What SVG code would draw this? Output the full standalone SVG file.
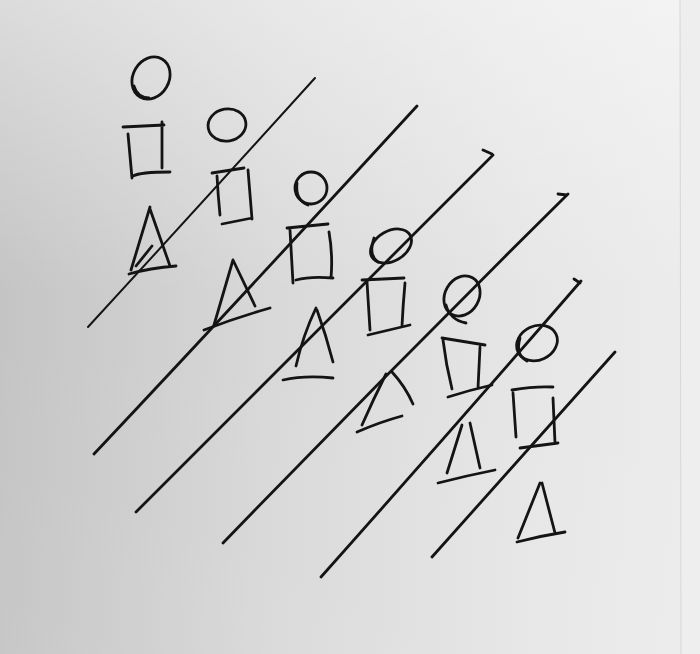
<svg xmlns="http://www.w3.org/2000/svg" width="700" height="654" viewBox="0 0 700 654">
<defs>
<linearGradient id="paperX" x1="0" y1="0" x2="700" y2="0" gradientUnits="userSpaceOnUse">
<stop offset="0" stop-color="#c4c4c4"/>
<stop offset="0.4" stop-color="#d9d9d9"/>
<stop offset="0.75" stop-color="#e6e6e6"/>
<stop offset="1" stop-color="#ececec"/>
</linearGradient>
<linearGradient id="paperY" x1="0" y1="0" x2="0" y2="654" gradientUnits="userSpaceOnUse">
<stop offset="0" stop-color="#ffffff" stop-opacity="0.4"/>
<stop offset="0.45" stop-color="#ffffff" stop-opacity="0"/>
<stop offset="1" stop-color="#ffffff" stop-opacity="0.05"/>
</linearGradient>
<style>
.ink{fill:none;stroke:#141414;stroke-width:2.8;stroke-linecap:round;stroke-linejoin:round}
.thin{stroke-width:2}
</style>
</defs>
<rect width="700" height="654" fill="url(#paperX)"/>
<rect width="700" height="654" fill="url(#paperY)"/>
<rect x="680" y="0" width="20" height="654" fill="#eeeeee"/>
<line x1="680" y1="0" x2="681" y2="654" stroke="#d6d6d6" stroke-width="1"/>

<g id="lines" class="ink">
<path class="thin" d="M88,327 Q200,205 315,78"/>
<path d="M94,454 Q252,286 417,106"/>
<path d="M136,512 Q312,336 493,155 M483,150 L492,154"/>
<path d="M223,543 Q393,367 568,194 M558,194 L567,195"/>
<path d="M321,577 Q450,432 581,281 M574,279 L580,283"/>
<path d="M432,557 Q522,456 615,352"/>
</g>

<g id="column1" class="ink">
<ellipse cx="151" cy="78" rx="18" ry="22" transform="rotate(30 151 78)"/>
<path d="M134,86 Q137,97 149,98"/>
<path d="M123,127 L164,125 M128,134 Q130,155 132,178 M162,122 L162,168 M133,176 Q140,172 170,172"/>
<path d="M150,207 L131,270 M150,209 L170,266 M129,274 Q150,268 176,266 M152,246 L136,266"/>
</g>

<g id="column2" class="ink">
<ellipse cx="227" cy="125" rx="19" ry="16" transform="rotate(-10 227 125)"/>
<path d="M212,173 L244,168 M217,176 Q218,195 220,215 M248,170 Q250,195 252,219 M222,224 L252,218"/>
<path d="M233,260 L214,325 M233,260 L255,306 M204,330 Q235,318 270,308"/>
</g>

<g id="column3" class="ink">
<ellipse cx="311" cy="188" rx="16" ry="16"/>
<path d="M297,183 Q295,200 308,205"/>
<path d="M287,228 L328,224 M290,230 L293,283 M329,232 Q333,255 331,278 M296,280 Q310,276 333,278"/>
<path d="M316,308 Q303,335 296,366 M317,310 Q326,335 333,362 M283,380 Q305,375 333,378"/>
</g>

<g id="column4" class="ink">
<ellipse cx="391" cy="246" rx="22" ry="15" transform="rotate(-30 391 246)"/>
<path d="M374,238 Q368,255 378,262"/>
<path d="M362,280 L404,278 M367,282 L370,330 M405,283 Q403,305 402,326 M368,335 L410,325"/>
<path d="M386,374 Q373,400 362,425 M392,372 Q405,386 413,404 M357,432 Q380,422 402,416"/>
</g>

<g id="column5" class="ink">
<ellipse cx="462" cy="296" rx="17" ry="21" transform="rotate(30 462 296)"/>
<path d="M446,305 Q450,320 466,323"/>
<path d="M442,338 L485,345 M443,340 Q446,365 452,389 M480,347 L478,388 M448,397 Q470,390 492,385"/>
<path d="M462,425 L447,473 M470,423 L480,468 M438,483 Q465,476 495,470"/>
</g>

<g id="column6" class="ink">
<ellipse cx="537" cy="343" rx="21" ry="17" transform="rotate(-25 537 343)"/>
<path d="M520,338 Q515,355 527,361"/>
<path d="M512,390 Q535,386 553,387 M513,393 L516,437 M553,398 L555,443 M520,448 L558,443"/>
<path d="M540,483 L518,538 M542,483 L555,533 M517,542 Q540,536 565,532"/>
</g>
</svg>
